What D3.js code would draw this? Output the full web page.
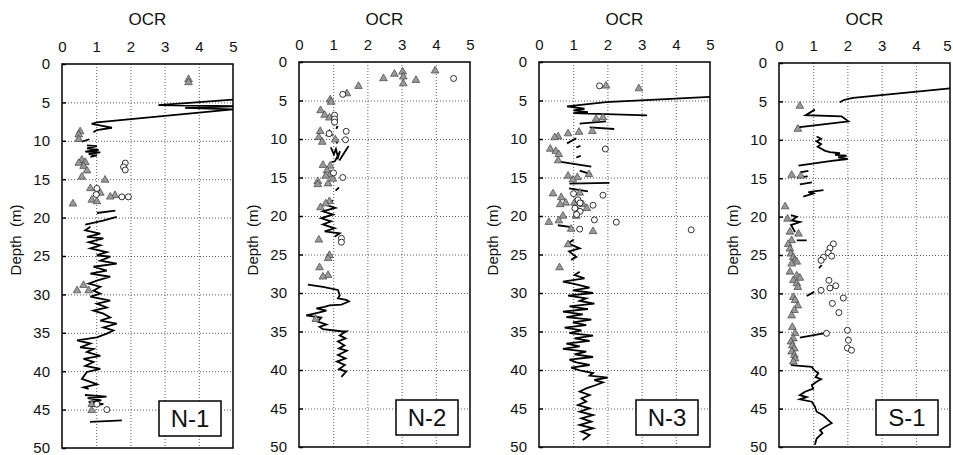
<!DOCTYPE html>
<html>
<head>
<meta charset="utf-8">
<script src="https://cdn.jsdelivr.net/npm/d3@7"></script>
<style>
	body { margin: 0; background: #fff; }
	svg { display: block; font-family: 'Liberation Sans', Arial, sans-serif; }
</style>
</head>
<body>
<div id="chart"></div>
<script>
'use strict';

// ---- data: [depth (m), OCR] ----
var panelNames = ['N-1', 'N-2', 'N-3', 'S-1'];
var ocrTicks = [0, 1, 2, 3, 4, 5];
var depthTicks = [0, 5, 10, 15, 20, 25, 30, 35, 40, 45, 50];

var n1Profile = [
	[4.65, 5.0], [5.35, 2.82], [5.5, 5.0], [5.7, 3.6], [5.9, 5.0], [7.6, 1.02], [7.8, 0.87], [8.1, 1.22], [8.3, 1.46], [8.6, 1.02], [8.9, 0.92], null,
	[10.1, 0.58], [9.8, 0.8], null,
	[10.6, 0.73], [10.7, 1.02], [11.0, 0.73], [11.2, 1.07], [11.4, 0.68], [11.5, 1.12], [11.7, 0.78], [11.9, 1.02], [12.1, 0.83], null,
	[19.4, 1.02], [19.1, 1.56], null,
	[20.9, 0.68], [20.4, 1.2], [19.9, 1.6], null,
	[21.2, 0.83], [21.65, 0.68], [22.1, 1.12], [22.5, 0.73], [22.7, 1.21], [23.2, 0.78], [23.6, 1.12], [24.0, 0.83], [24.5, 1.31], [24.9, 1.02],
	[25.1, 1.41], [25.6, 1.12], [26.0, 1.6], [26.4, 0.92], [26.9, 1.31], [27.3, 0.83], [27.7, 1.41], [28.2, 1.02], [28.6, 0.78], [29.0, 1.12], [29.5, 0.92],
	[29.9, 1.12], [30.3, 0.83], [30.8, 1.41], [31.2, 1.02], [31.7, 1.31], [32.1, 0.92], [32.5, 1.21], [33.0, 1.41], [33.4, 1.12], [33.8, 1.6], [34.3, 1.21], [34.7, 1.5], [35.1, 1.31],
	[35.6, 1.02], [36.0, 0.44], [36.4, 0.83], [36.9, 0.53], [37.1, 0.92], [37.5, 0.73], [38.0, 1.12], [38.4, 0.63], [38.8, 0.92], [39.3, 0.68], [39.7, 1.12],
	[40.1, 0.73], [41.0, 0.58], [41.4, 0.83], [41.7, 1.02], [42.1, 0.63], [42.3, 0.78], null,
	[43.1, 0.67], [43.3, 1.3], [43.5, 0.75], [43.8, 1.15], [44.0, 0.78], [44.3, 1.21], [44.5, 0.83], null,
	[46.6, 0.82], [46.5, 1.3], [46.4, 1.75]
];
var n1Triangles = [
	[2.0, 3.7], [2.4, 3.7], [8.8, 0.53], [9.2, 0.49], [9.8, 0.49], [12.5, 0.58], [12.8, 0.68], [12.9, 0.49], [13.3, 0.63], [13.9, 0.73],
	[14.7, 0.58], [15.1, 1.26], [16.2, 0.83], [16.8, 1.12], [17.1, 1.55], [17.3, 1.41], [17.7, 0.87], [17.9, 1.02], [18.2, 0.32],
	[28.8, 0.63], [29.5, 0.44], [29.5, 0.78], [44.3, 0.87], [45.1, 0.87]
];
var n1Circles = [
	[12.9, 1.85], [13.4, 1.8], [13.8, 1.85], [16.2, 1.02], [17.0, 1.0], [17.3, 1.75], [17.3, 1.94], [44.3, 1.02], [45.0, 1.31]
];

var n2Profile = [
	[8.3, 1.13], [8.7, 1.09], null,
	[10.2, 1.12], [10.6, 1.1], null,
	[11.1, 0.93], [12.0, 1.02], [11.3, 1.08], [12.4, 1.14], [11.6, 1.2], [12.9, 1.05], [13.0, 0.95], null,
	[12.8, 1.18], [10.9, 1.45], null,
	[16.7, 1.07], [16.3, 1.17], null,
	[18.0, 0.99], [18.5, 0.75], [18.95, 1.06], [19.4, 0.7], [19.8, 0.99], [20.3, 0.65], [20.7, 0.94], [21.1, 0.7], [21.6, 1.04], [22.0, 0.75], [22.25, 1.19], [22.7, 1.04], null,
	[28.9, 0.26], [29.2, 0.7], [29.6, 1.14], [30.3, 1.19], [30.7, 1.14], [30.9, 1.38], [31.1, 1.46], [31.5, 1.24], [31.6, 0.89], [31.8, 0.75], [32.0, 0.51],
	[32.3, 0.8], [32.6, 0.51], [32.9, 0.21], [33.2, 0.65], [33.7, 0.55], [34.1, 0.8], [34.4, 0.6], [34.7, 0.7], [35.0, 1.28], [35.0, 1.38],
	[35.5, 1.19], [35.9, 1.36], [36.3, 1.14], [36.8, 1.33], [37.2, 1.17], [37.5, 1.4], [38.05, 1.14], [38.5, 1.36], [38.9, 1.11], [39.35, 1.34],
	[39.9, 1.17], [40.2, 1.38], [40.9, 1.24]
];
var n2Triangles = [
	[1.14, 3.98], [1.27, 3.03], [1.57, 2.79], [1.92, 3.05], [2.14, 2.47], [2.36, 3.42], [2.8, 3.05], [3.14, 1.74], [4.1, 1.4], [4.9, 0.91],
	[5.2, 0.94], [6.3, 0.63], [6.9, 0.75], [7.25, 0.89], [9.0, 0.62], [9.3, 0.89], [9.8, 0.58], [10.1, 1.06], [10.4, 0.68], [13.4, 0.7],
	[13.5, 0.91], [14.1, 0.82], [14.6, 0.92], [14.8, 0.78], [15.2, 0.99], [15.5, 0.55], [15.8, 0.85], [15.9, 0.55], [18.1, 0.89], [18.4, 0.78],
	[18.9, 0.63], [23.1, 0.58], [25.1, 0.89], [25.5, 0.85], [26.7, 0.6], [27.7, 0.85], [27.9, 0.7], [33.4, 0.49]
];
var n2Circles = [
	[2.14, 4.52], [4.2, 1.28], [6.9, 1.04], [7.4, 1.04], [7.8, 1.04], [9.0, 1.38], [9.3, 0.88], [10.1, 1.36], [14.4, 1.01], [15.0, 1.28], [22.9, 1.24], [23.4, 1.24]
];

var n3Profile = [
	[4.54, 5.0], [5.2, 1.96], [5.76, 0.82], [6.07, 1.33], [6.29, 1.01], [6.5, 1.43], [6.64, 1.0], [6.94, 3.16], null,
	[8.0, 1.19], [7.7, 1.96], null,
	[8.5, 1.48], [8.7, 2.2], null,
	[10.57, 0.82], [9.9, 1.09], null,
	[11.1, 1.09], [10.9, 1.21], null,
	[12.4, 1.09], [12.2, 1.22], null,
	[12.9, 0.55], [13.6, 1.53], null,
	[14.1, 1.19], [14.6, 1.53], null,
	[15.8, 0.89], [15.7, 2.06], null,
	[16.4, 0.88], [16.8, 1.43], null,
	[21.2, 0.55], [21.4, 0.9], null,
	[23.1, 1.01], [23.55, 0.85], [24.2, 1.19], [24.6, 0.88], [25.3, 1.09], [25.7, 0.94], null,
	[27.23, 1.19], [27.66, 1.04], [28.1, 1.33], [28.53, 0.7], [28.88, 1.09], [29.31, 1.48], [29.65, 0.99], [30.0, 1.58], [30.35, 0.85], [30.7, 1.38],
	[31.04, 1.19], [31.39, 1.62], [31.73, 0.89], [32.08, 1.43], [32.43, 0.7], [32.77, 1.28], [33.12, 0.8], [33.46, 1.53], [33.81, 0.99], [34.16, 1.38],
	[34.5, 0.75], [34.85, 1.24], [35.2, 0.89], [35.54, 1.58], [35.89, 1.04], [36.23, 1.48], [36.58, 0.8], [36.93, 1.19], [37.27, 0.7], [37.62, 1.38],
	[37.97, 1.04], [38.31, 1.58], [38.66, 0.89], [39.0, 1.09], [39.35, 1.48], [39.7, 0.94], [40.04, 1.19], [40.39, 1.58], [40.74, 1.48], [41.0, 2.01],
	[41.3, 1.62], [41.6, 1.87], [41.95, 1.67], [42.38, 1.38], [42.8, 1.19], [43.25, 1.48], [43.68, 1.24], [44.1, 1.38], [44.55, 1.14], [44.98, 1.48],
	[45.41, 1.19], [45.85, 1.58], [46.28, 1.24], [46.71, 1.53], [47.14, 1.19], [47.58, 1.58], [48.0, 1.24], [48.44, 1.48], [49.09, 1.28]
];
var n3Triangles = [
	[3.1, 1.96], [3.45, 2.92], [7.2, 1.87], [7.4, 1.67], [9.0, 1.56], [9.1, 1.17], [9.3, 0.85], [9.7, 0.56], [9.8, 0.46], [11.3, 0.33],
	[11.6, 0.49], [12.0, 0.58], [12.8, 0.56], [14.6, 1.46], [14.8, 0.85], [15.0, 1.12], [15.3, 0.99], [17.0, 1.19], [17.1, 0.41], [17.6, 0.65],
	[18.3, 0.78], [18.3, 1.04], [18.5, 0.62], [18.5, 1.28], [19.0, 1.4], [19.4, 1.14], [20.0, 1.09], [20.0, 0.7], [20.6, 0.58], [20.8, 0.29],
	[21.7, 0.94], [22.0, 1.58], [23.7, 0.85], [26.7, 0.6]
];
var n3Circles = [
	[3.1, 1.77], [11.3, 1.94], [17.1, 1.01], [17.3, 1.87], [17.9, 1.14], [18.3, 1.2], [18.6, 1.58], [19.0, 1.05], [19.4, 1.2], [19.8, 1.1],
	[20.5, 1.62], [20.8, 2.26], [21.7, 1.19], [21.8, 4.45]
];

var s1Profile = [
	[3.3, 5.0], [4.54, 2.17], [4.67, 2.03], [4.85, 1.88], [5.1, 1.78], null,
	[6.07, 1.05], [6.8, 0.78], [6.94, 1.83], [7.6, 2.03], [8.38, 0.55], null,
	[9.56, 1.1], [9.87, 1.23], [10.2, 1.1], [10.57, 1.23], [10.9, 1.13], [11.44, 1.35], [11.6, 1.49], [11.75, 1.78], [11.97, 1.64], [12.05, 1.98],
	[12.3, 1.73], [12.5, 2.01], [12.75, 1.54], [13.36, 0.57], null,
	[14.24, 0.61], [14.06, 0.86], null,
	[14.93, 0.52], [14.76, 0.84], null,
	[15.8, 0.61], [15.55, 0.96], null,
	[17.4, 0.71], [17.0, 1.0], [16.8, 0.86], [16.55, 1.3], null,
	[19.8, 0.35], [20.04, 0.52], [20.5, 0.37], [20.7, 0.61], [21.1, 0.35], [22.0, 0.47], null,
	[23.1, 0.52], [23.1, 0.81], null,
	[26.7, 1.17], [26.3, 1.25], null,
	[30.35, 0.81], [29.8, 1.03], null,
	[35.76, 0.61], [35.15, 1.39], null,
	[39.35, 0.35], [39.57, 0.96], [40.0, 1.03], [40.4, 1.15], [40.9, 1.07], [41.17, 1.23], [41.5, 1.1], [41.95, 0.96], [42.4, 1.0], [42.8, 0.76],
	[43.25, 0.61], [43.5, 0.81], [43.8, 0.61], [44.1, 0.96], [44.76, 1.05], [45.4, 1.1], [45.9, 1.3], [46.5, 1.44], [46.9, 1.54], [47.36, 1.35],
	[47.8, 1.2], [48.2, 1.27], [48.9, 1.1], [49.7, 1.05]
];
var s1Triangles = [
	[5.6, 0.61], [8.6, 0.55], [14.6, 0.37], [14.7, 0.64], [18.7, 0.18], [20.3, 0.25], [22.0, 0.32], [22.25, 0.57], [23.1, 0.37], [23.6, 0.27],
	[24.2, 0.32], [24.85, 0.35], [25.3, 0.42], [25.7, 0.47], [25.9, 0.52], [26.15, 0.37], [27.2, 0.32], [27.7, 0.52], [28.0, 0.61], [28.3, 0.42],
	[28.7, 0.52], [29.2, 0.55], [30.5, 0.42], [30.9, 0.47], [31.6, 0.55], [32.2, 0.45], [32.9, 0.37], [34.4, 0.39], [35.2, 0.47], [35.9, 0.42],
	[36.3, 0.35], [36.8, 0.39], [37.2, 0.45], [37.6, 0.37], [38.05, 0.45], [38.5, 0.47], [38.9, 0.42]
];
var s1Circles = [
	[23.55, 1.59], [24.1, 1.49], [24.7, 1.44], [25.15, 1.54], [25.3, 1.3], [25.7, 1.23], [28.3, 1.46], [29.0, 1.66], [29.3, 1.49], [29.6, 1.23],
	[30.6, 1.88], [31.3, 1.56], [32.5, 1.75], [34.8, 2.0], [35.2, 1.39], [36.1, 2.03], [37.1, 2.0], [37.4, 2.12]
];

var profiles = [n1Profile, n2Profile, n3Profile, s1Profile];
var triangles = [n1Triangles, n2Triangles, n3Triangles, s1Triangles];
var circles = [n1Circles, n2Circles, n3Circles, s1Circles];

// ---- layout ----
var W = 953, H = 455;
var frames = [
	{left: 62, top: 64, bottom: 448},
	{left: 299, top: 62, bottom: 447},
	{left: 539, top: 62, bottom: 447},
	{left: 779, top: 63, bottom: 447}
];
var plotW = 171;

var svg = d3.select('#chart').append('svg')
	.attr('width', W)
	.attr('height', H);

panelNames.forEach(function(name, i){

	var f = frames[i];
	var x = d3.scaleLinear().domain([0, 5]).range([f.left, f.left + plotW]);
	var y = d3.scaleLinear().domain([0, 50]).range([f.top, f.bottom]);
	var g = svg.append('g').attr('class', 'panel');

	// grid
	g.append('g')
		.attr('class', 'grid')
		.attr('transform', 'translate(0,' + f.top + ')')
		.call(d3.axisTop(x).tickValues(ocrTicks.slice(1, -1)).tickSize(-(f.bottom - f.top)).tickFormat(''))
		.call(function(s){ s.select('.domain').remove(); });

	g.append('g')
		.attr('class', 'grid')
		.attr('transform', 'translate(' + f.left + ',0)')
		.call(d3.axisLeft(y).tickValues(depthTicks.slice(1, -1)).tickSize(-plotW).tickFormat(''))
		.call(function(s){ s.select('.domain').remove(); });

	g.selectAll('.grid line')
		.attr('stroke', '#333')
		.attr('stroke-width', 0.8)
		.attr('stroke-dasharray', '1,2');

	// axes
	var top = g.append('g')
		.attr('transform', 'translate(0,' + f.top + ')')
		.call(d3.axisTop(x).tickValues(ocrTicks).tickFormat(d3.format('d')).tickSize(0).tickPadding(12));
	top.select('.domain').remove();
	top.selectAll('text').attr('font-size', 15).attr('font-family', null).attr('fill', '#111');
	// keep the last label of the right-most panel inside the picture
	if (i === panelNames.length - 1) {
		top.selectAll('text').filter(function(d){ return d === 5; }).attr('dx', -3);
	}

	var left = g.append('g')
		.attr('transform', 'translate(' + f.left + ',0)')
		.call(d3.axisLeft(y).tickValues(depthTicks).tickFormat(d3.format('d')).tickSizeInner(-4).tickSizeOuter(0).tickPadding(12));
	left.select('.domain').remove();
	left.selectAll('line').attr('stroke', '#000').attr('stroke-width', 1.5);
	left.selectAll('text').attr('font-size', 15).attr('font-family', null).attr('fill', '#111');

	// titles
	g.append('text')
		.attr('x', f.left + plotW/2)
		.attr('y', 25)
		.attr('text-anchor', 'middle')
		.attr('font-size', 17)
		.attr('fill', '#111')
		.text('OCR');

	g.append('text')
		.attr('transform', 'translate(' + (f.left - 41) + ',240) rotate(-90)')
		.attr('text-anchor', 'middle')
		.attr('font-size', 15)
		.attr('fill', '#111')
		.attr('xml:space', 'preserve')
		.text('Depth  (m)');

	// profile line
	var line = d3.line()
		.defined(function(d){ return d !== null; })
		.x(function(d){ return x(d[1]); })
		.y(function(d){ return y(d[0]); });

	g.append('path')
		.datum(profiles[i])
		.attr('d', line)
		.attr('fill', 'none')
		.attr('stroke', '#000')
		.attr('stroke-width', 1.8)
		.attr('stroke-linejoin', 'miter');

	// triangles
	g.selectAll('path.tri')
		.data(triangles[i])
		.enter().append('path')
		.attr('class', 'tri')
		.attr('transform', function(d){ return 'translate(' + x(d[1]) + ',' + y(d[0]) + ')'; })
		.attr('d', d3.symbol().type(d3.symbolTriangle).size(26))
		.attr('fill', '#999')
		.attr('stroke', '#444')
		.attr('stroke-width', 0.7);

	// circles
	g.selectAll('circle.cir')
		.data(circles[i])
		.enter().append('circle')
		.attr('class', 'cir')
		.attr('cx', function(d){ return x(d[1]); })
		.attr('cy', function(d){ return y(d[0]); })
		.attr('r', 3)
		.attr('fill', '#fff')
		.attr('stroke', '#000')
		.attr('stroke-width', 0.8);

	// frame
	g.append('rect')
		.attr('x', f.left)
		.attr('y', f.top)
		.attr('width', plotW)
		.attr('height', f.bottom - f.top)
		.attr('fill', 'none')
		.attr('stroke', '#000')
		.attr('stroke-width', 1.5);

	// name box
	var bx = f.left + plotW - 12 - 62;
	var by = f.bottom - 12 - 35;
	g.append('rect')
		.attr('x', bx)
		.attr('y', by)
		.attr('width', 62)
		.attr('height', 35)
		.attr('fill', '#fff')
		.attr('stroke', '#000')
		.attr('stroke-width', 1.5);

	g.append('text')
		.attr('x', bx + 31)
		.attr('y', by + 26)
		.attr('text-anchor', 'middle')
		.attr('font-size', 24)
		.attr('fill', '#111')
		.text(name);
});
</script>
</body>
</html>
